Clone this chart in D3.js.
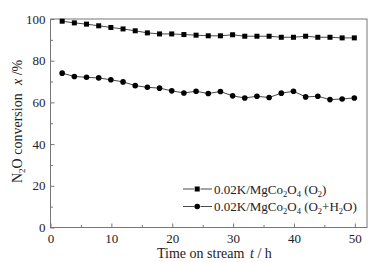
<!DOCTYPE html>
<html>
<head>
<meta charset="utf-8">
<script src="https://cdn.jsdelivr.net/npm/d3@7"></script>
<style>
  body { margin: 0; background: #fff; }
  svg { display: block; font-family: "Liberation Serif", "Times New Roman", serif; }
</style>
</head>
<body>
<div id="chart-area"></div>
<script>
(() => {

  // time on stream, h
  const hours = [2, 4, 6, 8, 10, 12, 14, 16, 18, 20, 22, 24, 26, 28, 30, 32, 34, 36, 38, 40, 42, 44, 46, 48, 50];
  // N2O conversion, %
  const convO2 = [98.7, 97.9, 97.3, 96.5, 95.7, 95.0, 94.1, 93.1, 92.6, 92.6, 92.3, 92.0, 91.7, 91.7, 92.2,
    91.5, 91.5, 91.5, 91.0, 91.0, 91.5, 91.0, 91.0, 90.7, 90.7];
  const convO2H2O = [73.8, 72.2, 71.8, 71.5, 70.6, 69.6, 67.8, 67.0, 66.6, 65.3, 64.3, 65.1, 64.0, 65.0, 62.9,
    61.9, 62.7, 62.1, 64.2, 65.1, 62.4, 62.7, 61.1, 61.4, 61.9];
  const ticksX = [0, 10, 20, 30, 40, 50];
  const ticksY = [0, 20, 40, 60, 80, 100];

  const widthSvg = 375;
  const heightSvg = 262;
  const margin = { top: 18.5, right: 8.5, bottom: 35, left: 50 };
  const widthChart = widthSvg - margin.left - margin.right;
  const heightChart = heightSvg - margin.top - margin.bottom;

  const frameColor = '#777';
  const textColor = '#222';

  const svg = d3.select('#chart-area').append('svg')
    .attr('width', widthSvg)
    .attr('height', heightSvg);

  const chart = svg.append('g')
    .attr('transform', `translate(${margin.left}, ${margin.top})`);

  const scaleX = d3.scaleLinear().domain([0, 52]).range([0, widthChart]);
  const scaleY = d3.scaleLinear().domain([0, 100]).range([heightChart, 0]);

  // frame
  chart.append('rect')
    .attr('x', 0.5).attr('y', 0.5)
    .attr('width', widthChart).attr('height', heightChart)
    .attr('fill', 'none')
    .attr('stroke', frameColor);

  // minor ticks
  const axisXMinor = d3.axisBottom(scaleX)
    .tickValues([5, 15, 25, 35, 45])
    .tickSize(-2.5).tickFormat('');
  const axisYMinor = d3.axisLeft(scaleY)
    .tickValues([10, 30, 50, 70, 90])
    .tickSize(-2.5).tickFormat('');

  const axisX = d3.axisBottom(scaleX)
    .tickValues(ticksX)
    .tickSize(-4)
    .tickPadding(6)
    .tickFormat(d3.format('d'));
  const axisY = d3.axisLeft(scaleY)
    .tickValues(ticksY)
    .tickSize(-4)
    .tickPadding(5)
    .tickFormat(d3.format('d'));

  [[axisX, `translate(0.5, ${heightChart + 0.5})`], [axisXMinor, `translate(0.5, ${heightChart + 0.5})`],
   [axisY, 'translate(0.5, 0.5)'], [axisYMinor, 'translate(0.5, 0.5)']].forEach(([ax, tr]) => {
    const g = chart.append('g').attr('transform', tr).call(ax);
    g.select('.domain').remove();
    g.selectAll('line').attr('stroke', frameColor);
    g.selectAll('text')
      .attr('fill', textColor)
      .attr('font-size', '13px')
      .attr('font-family', '"Liberation Serif", serif');
  });

  // series
  const line = d3.line()
    .x(d => scaleX(d[0]))
    .y(d => scaleY(d[1]));

  const series = [
    { name: 'O2', values: convO2, marker: 'square' },
    { name: 'O2H2O', values: convO2H2O, marker: 'circle' },
  ];

  series.forEach(s => {
    const pts = hours.map((h, i) => [h, s.values[i]]);
    chart.append('path')
      .datum(pts)
      .attr('d', line)
      .attr('fill', 'none')
      .attr('stroke', '#333')
      .attr('stroke-width', 0.9);

    if (s.marker === 'square') {
      chart.selectAll(null)
        .data(pts)
        .enter().append('rect')
          .attr('x', d => scaleX(d[0]) - 2.5)
          .attr('y', d => scaleY(d[1]) - 2.5)
          .attr('width', 5)
          .attr('height', 5)
          .attr('fill', '#000');
    } else {
      chart.selectAll(null)
        .data(pts)
        .enter().append('circle')
          .attr('cx', d => scaleX(d[0]))
          .attr('cy', d => scaleY(d[1]))
          .attr('r', 2.8)
          .attr('fill', '#000');
    }
  });

  // text with subscripts: parts in [] are subscripts
  const richText = (t, parts, subSize, shift) => {
    let down = false;
    parts.forEach(part => {
      if (Array.isArray(part)) {
        t.append('tspan').attr('font-size', subSize).attr('dy', shift).text(part[0]);
        down = true;
      } else {
        t.append('tspan').attr('dy', down ? -shift : 0).text(part);
        down = false;
      }
    });
  };

  // legend
  const legend = svg.append('g').attr('transform', 'translate(183, 189)');
  const legendRows = [
    { marker: 'square', label: ['0.02K/MgCo', ['2'], 'O', ['4'], ' (O', ['2'], ')'] },
    { marker: 'circle', label: ['0.02K/MgCo', ['2'], 'O', ['4'], ' (O', ['2'], '+H', ['2'], 'O)'] },
  ];
  legendRows.forEach((r, i) => {
    const g = legend.append('g').attr('transform', `translate(0, ${i * 17.5})`);
    g.append('line').attr('x1', 0).attr('x2', 11).attr('y1', 0).attr('y2', 0)
      .attr('stroke', '#333').attr('stroke-width', 0.9);
    g.append('line').attr('x1', 17.5).attr('x2', 29).attr('y1', 0).attr('y2', 0)
      .attr('stroke', '#333').attr('stroke-width', 0.9);
    if (r.marker === 'square') {
      g.append('rect').attr('x', 11.7).attr('y', -2.5).attr('width', 5).attr('height', 5).attr('fill', '#000');
    } else {
      g.append('circle').attr('cx', 14.2).attr('cy', 0).attr('r', 2.8).attr('fill', '#000');
    }
    const t = g.append('text')
      .attr('x', 31)
      .attr('y', 4.5)
      .attr('font-size', '13px')
      .attr('fill', textColor);
    richText(t, r.label, '8.5px', 3);
  });

  // axis titles
  svg.append('text')
    .attr('x', 157)
    .attr('y', 258)
    .attr('font-size', '14px')
    .attr('fill', textColor)
    .text('Time on stream');
  const unitX = svg.append('text')
    .attr('x', 250)
    .attr('y', 258)
    .attr('font-size', '14px')
    .attr('fill', textColor);
  unitX.append('tspan').attr('font-style', 'italic').text('t');
  unitX.append('tspan').text(' / h');

  const titleY = svg.append('text')
    .attr('transform', 'translate(22, 183) rotate(-90)')
    .attr('font-size', '14px')
    .attr('fill', textColor);
  titleY.append('tspan').text('N');
  titleY.append('tspan').attr('font-size', '9px').attr('dy', 3).text('2');
  titleY.append('tspan').attr('dy', -3).text('O conversion');
  const unitY = svg.append('text')
    .attr('transform', 'translate(22, 85) rotate(-90)')
    .attr('font-size', '14px')
    .attr('fill', textColor);
  unitY.append('tspan').attr('font-style', 'italic').text('x');
  unitY.append('tspan').text(' /%');

})();
</script>
</body>
</html>
